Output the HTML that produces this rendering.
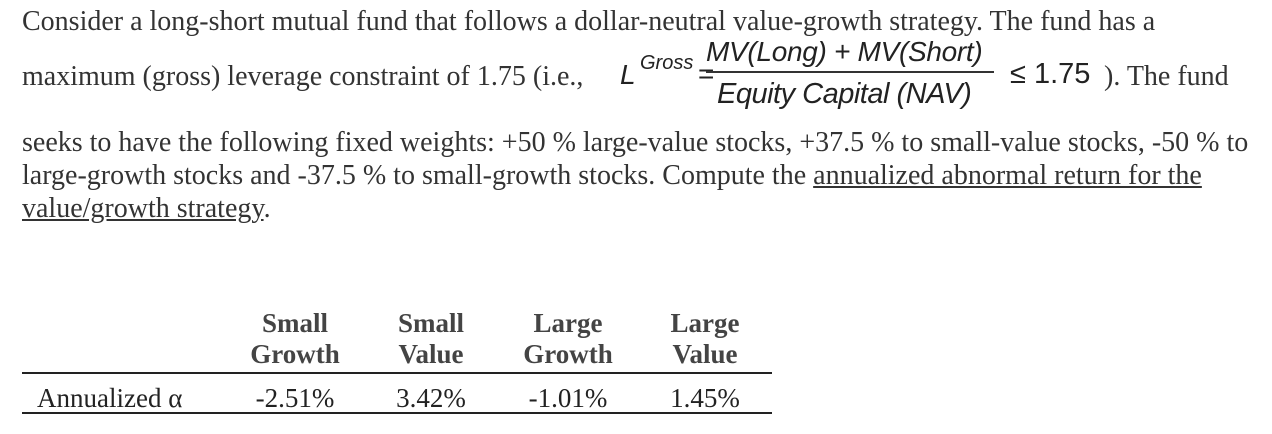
<!DOCTYPE html>
<html><head><meta charset="utf-8"><style>
body{margin:0;width:1272px;height:434px;background:#fff;position:relative;overflow:hidden;font-family:"Liberation Serif",serif;color:#333;}
.t{position:absolute;font-size:28px;white-space:nowrap;line-height:1;}
.f{position:absolute;font-family:"Liberation Sans",sans-serif;font-style:italic;font-size:28px;white-space:nowrap;line-height:1;color:#222}
.u{text-decoration:underline;}
.h{position:absolute;font-weight:bold;font-size:27px;text-align:center;width:140px;line-height:31px;color:#444}
.c{position:absolute;font-size:27px;text-align:center;width:140px;line-height:1;color:#222}
.rule{position:absolute;left:22px;width:750px;height:2px;background:#222}
</style></head><body>
<div class="t" style="left:22px;top:8px">Consider a long-short mutual fund that follows a dollar-neutral value-growth strategy. The fund has a</div>
<div class="t" style="left:22px;top:63px">maximum (gross) leverage constraint of 1.75 (i.e.,</div>
<div class="f" style="left:620px;top:61px">L</div>
<div class="f" style="left:640px;top:53px;font-size:20px">Gross</div>
<div class="f" style="left:698px;top:60px;font-style:normal">=</div>
<div class="f" style="left:706px;top:38px;letter-spacing:-0.3px">MV(Long) + MV(Short)</div>
<div style="position:absolute;left:706px;top:71px;width:288px;height:2px;background:#333"></div>
<div class="f" style="left:717px;top:80px;font-size:29px;letter-spacing:-0.5px">Equity Capital (NAV)</div>
<div class="f" style="left:1010px;top:60px;font-style:normal;font-size:29px">≤ 1.75</div>
<div class="t" style="left:1104px;top:63px">). The fund</div>
<div class="t" style="left:22px;top:129px">seeks to have the following fixed weights: +50 % large-value stocks, +37.5 % to small-value stocks, -50 % to</div>
<div class="t" style="left:22px;top:162px">large-growth stocks and -37.5 % to small-growth stocks. Compute the <span class="u">annualized abnormal return for the</span></div>
<div class="t" style="left:22px;top:195px"><span class="u">value/growth strategy</span>.</div>
<div class="h" style="left:225px;top:308px">Small<br>Growth</div>
<div class="h" style="left:361px;top:308px">Small<br>Value</div>
<div class="h" style="left:498px;top:308px">Large<br>Growth</div>
<div class="h" style="left:635px;top:308px">Large<br>Value</div>
<div class="rule" style="top:372px"></div>
<div class="c" style="left:37px;top:385px;text-align:left;width:200px">Annualized α</div>
<div class="c" style="left:225px;top:385px">-2.51%</div>
<div class="c" style="left:361px;top:385px">3.42%</div>
<div class="c" style="left:498px;top:385px">-1.01%</div>
<div class="c" style="left:635px;top:385px">1.45%</div>
<div class="rule" style="top:412px"></div>
</body></html>
